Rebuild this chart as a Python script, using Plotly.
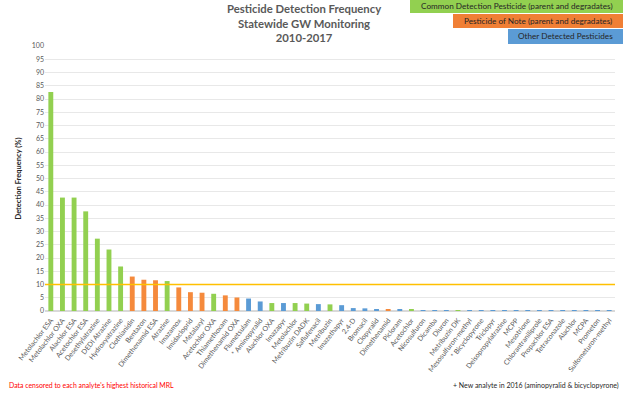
import plotly.graph_objects as go

categories = ["Metolachlor ESA", "Metolachlor OXA", "Alachlor ESA", "Acetochlor ESA", "Desethylatrazine",
              "DEDI Atrazine", "Hydroxyatrazine", "Clothianidin", "Bentazon", "Dimethenamid ESA",
              "Atrazine", "Imazamox", "Imidacloprid", "Metalaxyl", "Acetochlor OXA",
              "Thiamethoxam", "Dimethenamid OXA", "Flumetsulam", "* Aminopyralid", "Alachlor OXA",
              "Imazapyr", "Metolachlor", "Metribuzin DADK", "Saflufenacil", "Metribuzin",
              "Imazethapyr", "2,4-D", "Bromacil", "Clopyralid", "Dimethenamid",
              "Picloram", "Acetochlor", "Nicosulfuron", "Dicamba", "Diuron",
              "Metribuzin DK", "Mesosulfuron-methyl", "* Bicyclopyrone", "Triclopyr", "Deisopropylatrazine",
              "MCPP", "Mesotrione", "Chlorantraniliprole", "Propachlor ESA", "Tetraconazole",
              "Alachlor", "MCPA", "Prometon", "Sulfometuron-methyl"]
values = [82.6, 42.8, 42.8, 37.6, 27.3,
          23.2, 16.8, 13.0, 11.8, 11.6,
          11.3, 8.9, 7.1, 6.9, 6.5,
          5.9, 5.1, 4.7, 3.6, 3.0,
          3.0, 3.0, 2.8, 2.6, 2.5,
          2.2, 1.1, 1.0, 0.75, 0.4,
          0.4, 0.5, 0.35, 0.3, 0.3,
          0.25, 0.15, 0.15, 0.15, 0.15,
          0.15, 0.15, 0.15, 0.15, 0.15,
          0.15, 0.15, 0.15, 0.15]
groups = ["C", "C", "C", "C", "C", "C", "C", "N", "N", "N",
          "C", "N", "N", "N", "C", "N", "N", "O", "O", "C",
          "O", "C", "C", "O", "C", "O", "O", "O", "O", "N",
          "O", "C", "O", "O", "O", "C", "O", "O", "O", "O",
          "O", "O", "O", "O", "O", "O", "O", "O", "O"]
y_ticks = list(range(0, 101, 5))
threshold = 10

GREEN = "#92D050"
ORANGE = "#F58A3C"
BLUE = "#5B9BD5"
cmap = {"C": GREEN, "N": ORANGE, "O": BLUE}
colors = [cmap[g] for g in groups]

FONT = "Lato"
W, H = 624, 393

fig = go.Figure()
fig.add_trace(go.Bar(x=categories, y=values, marker=dict(color=colors, line=dict(width=0)),
                     width=0.42, showlegend=False))

L, R, T, B = 45, 615, 46, 311
def px(x):
    return (x - L) / (R - L)
def py(y):
    return (B - y) / (B - T)

fig.add_shape(type="line", xref="paper", yref="y", x0=0, x1=1, y0=threshold, y1=threshold,
              line=dict(color="#FFC000", width=1.5))

shapes_boxes = [
    (410, 623, 0, 13, GREEN, "Common Detection Pesticide (parent and degradates)"),
    (453, 623, 14, 28, "#F07F35", "Pesticide of Note (parent and degradates)"),
    (508, 623, 29, 44, BLUE, "Other Detected Pesticides"),
]
for x0, x1, y0, y1, c, t in shapes_boxes:
    fig.add_shape(type="rect", xref="paper", yref="paper", x0=px(x0), x1=px(x1), y0=py(y1), y1=py(y0),
                  fillcolor=c, line=dict(width=0), layer="above")
    fig.add_annotation(xref="paper", yref="paper", x=px((x0 + x1) / 2), y=py((y0 + y1) / 2),
                       text=t, showarrow=False, font=dict(family=FONT, size=8.2, color="#262626"),
                       xanchor="center", yanchor="middle")

fig.add_annotation(xref="paper", yref="paper", x=px(304), y=py(23),
                   text="<b>Pesticide Detection Frequency<br>Statewide GW Monitoring<br>2010-2017</b>",
                   showarrow=False, font=dict(family=FONT, size=11.3, color="#595959"),
                   xanchor="center", yanchor="middle", align="center")

fig.add_annotation(xref="paper", yref="paper", x=px(7), y=py(385),
                   text="Data censored to each analyte's highest historical MRL",
                   showarrow=False, font=dict(family=FONT, size=6.9, color="#FF0000"),
                   xanchor="left", yanchor="middle")
fig.add_annotation(xref="paper", yref="paper", x=px(621), y=py(385),
                   text="+ New analyte in 2016 (aminopyralid & bicyclopyrone)",
                   showarrow=False, font=dict(family=FONT, size=7.0, color="#262626"),
                   xanchor="right", yanchor="middle")

fig.update_layout(
    width=W, height=H,
    margin=dict(l=L, r=W - R, t=T, b=H - B),
    plot_bgcolor="white", paper_bgcolor="white",
    font=dict(family=FONT, color="#595959"),
)
fig.update_xaxes(tickangle=-52, tickfont=dict(size=7, color="#595959", family=FONT),
                 showgrid=False, showline=False, ticks="", automargin=False, ticklabelstandoff=3)
fig.update_yaxes(range=[0, 100], tickvals=y_ticks, tickfont=dict(size=7, color="#595959", family=FONT),
                 showgrid=True, gridcolor="#E8E8E8", gridwidth=1, zeroline=True, zerolinecolor="#D9D9D9",
                 ticks="", automargin=False,
                 title=dict(text="<b>Detection Frequency (%)</b>", font=dict(size=7.5, color="#262626", family=FONT),
                            standoff=9))

fig.write_html("out.html", config={"displayModeBar": False},
               post_script="document.body.style.margin='0';")
